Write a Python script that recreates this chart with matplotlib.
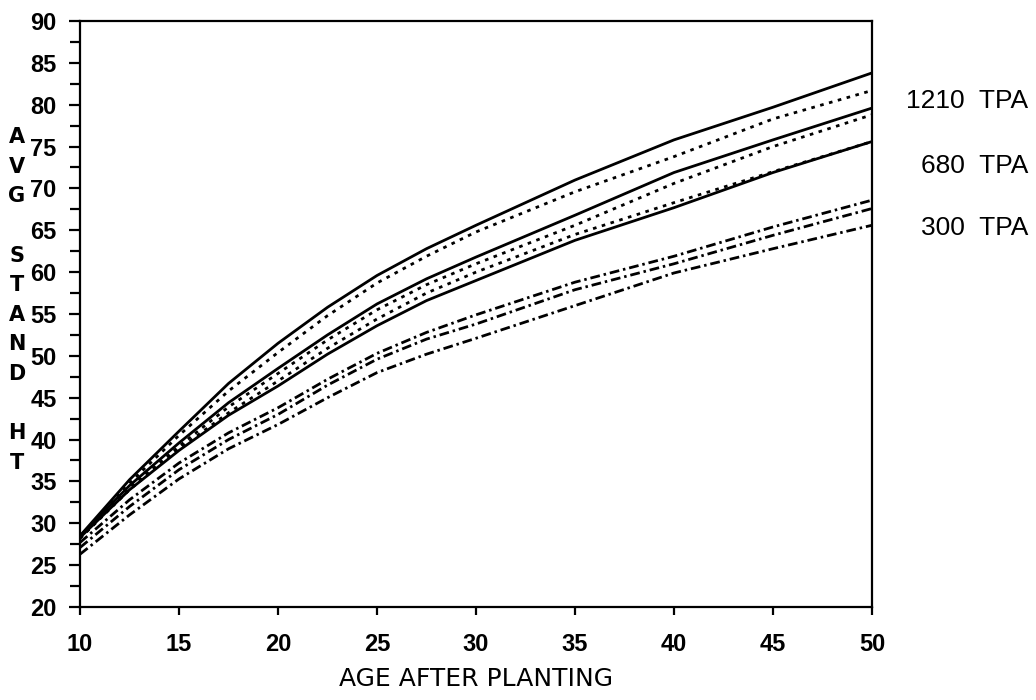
import matplotlib
matplotlib.use("Agg")
import matplotlib.pyplot as plt
from matplotlib.font_manager import FontProperties
from matplotlib.ticker import MultipleLocator

# ============================================================
# DATA
# ============================================================

AGE = [10, 12.5, 15, 17.5, 20, 22.5, 25, 27.5, 30, 35, 40, 45, 50]

# solid curves
SOLID_1 = [28.5, 35.2, 41.0, 46.7, 51.5, 55.8, 59.6, 62.8, 65.6, 71.0, 75.8, 79.7, 83.8]
SOLID_2 = [28.5, 34.5, 39.6, 44.4, 48.5, 52.5, 56.2, 59.2, 61.8, 66.8, 71.9, 75.8, 79.6]
SOLID_3 = [28.3, 34.0, 38.7, 42.9, 46.4, 50.2, 53.6, 56.6, 59.0, 63.8, 67.7, 71.9, 75.6]

# dotted curves
DOTTED_1 = [28.3, 34.8, 40.5, 45.8, 50.4, 54.8, 58.7, 61.9, 64.8, 69.6, 73.8, 78.3, 81.7]
DOTTED_2 = [28.2, 34.2, 39.2, 43.9, 47.9, 51.9, 55.5, 58.5, 61.0, 65.6, 70.6, 75.0, 78.8]
DOTTED_3 = [28.2, 34.0, 38.9, 43.2, 47.0, 50.9, 54.4, 57.5, 60.0, 64.5, 68.3, 72.0, 75.6]

# dash-dot curves
DASHDOT_1 = [27.7, 32.8, 37.2, 40.8, 43.8, 47.2, 50.3, 52.8, 54.9, 58.8, 61.9, 65.4, 68.6]
DASHDOT_2 = [27.1, 32.0, 36.4, 40.0, 43.0, 46.5, 49.6, 52.0, 53.8, 57.9, 61.0, 64.4, 67.6]
DASHDOT_3 = [26.3, 31.0, 35.3, 38.9, 41.8, 45.0, 48.0, 50.2, 52.1, 56.0, 59.9, 62.8, 65.6]

TPA_LABELS = ["1210  TPA", "680  TPA", "300  TPA"]

X_TICKS = [10, 15, 20, 25, 30, 35, 40, 45, 50]
Y_TICKS = list(range(20, 95, 5))

YLABEL = "A\nV\nG\n\nS\nT\nA\nN\nD\n\nH\nT"
XLABEL = "AGE AFTER PLANTING"

# ============================================================
# STYLE
# ============================================================

TICK_FONT = dict(family=["Liberation Sans", "DejaVu Sans"], weight="bold", size=17)
LABEL_FONT = dict(family=["DejaVu Sans"], size=18)
SIDE_FONT = dict(family=["Liberation Sans", "DejaVu Sans"], size=19)

DOT = (0, (1.3, 2.0))
DASHDOT = (0, (3.5, 1.4, 0.9, 1.4))


def main() -> None:
    fig = plt.figure(figsize=(10.36, 7.0), dpi=100)
    ax = fig.add_axes([80 / 1036, 1 - 607 / 700, 792 / 1036, 586 / 700])

    for ys in (SOLID_1, SOLID_2, SOLID_3):
        ax.plot(AGE, ys, color="black", lw=2.0, ls="-")
    for ys in (DOTTED_1, DOTTED_2, DOTTED_3):
        ax.plot(AGE, ys, color="black", lw=2.0, ls=DOT)
    for ys in (DASHDOT_1, DASHDOT_2, DASHDOT_3):
        ax.plot(AGE, ys, color="black", lw=2.0, ls=DASHDOT)

    ax.set_xlim(10, 50)
    ax.set_ylim(20, 90)
    ax.set_xticks(X_TICKS)
    ax.set_yticks(Y_TICKS)
    ax.yaxis.set_minor_locator(MultipleLocator(2.5))

    fp = FontProperties(**TICK_FONT)
    for lbl in ax.get_xticklabels() + ax.get_yticklabels():
        lbl.set_fontproperties(fp)

    ax.tick_params(axis="x", direction="out", length=6, width=1.6, pad=13)
    ax.tick_params(axis="y", which="major", direction="out", length=8, width=1.6, pad=9)
    ax.tick_params(axis="y", which="minor", direction="out", length=7, width=1.6)
    for side in ("left", "right", "top", "bottom"):
        ax.spines[side].set_linewidth(1.6)

    ax.set_xlabel(XLABEL, labelpad=8, **LABEL_FONT)

    fig.text(17 / 1036, 1 - 300 / 700, YLABEL, ha="center", va="center",
             linespacing=1.6, family=["DejaVu Sans"], weight="bold", size=15)

    for lbl, ypix in zip(TPA_LABELS, [101, 166, 228]):
        fig.text(1028 / 1036, 1 - ypix / 700, lbl, ha="right", va="center", **SIDE_FONT)

    fig.savefig("out.png", dpi=100)


if __name__ == "__main__":
    main()
